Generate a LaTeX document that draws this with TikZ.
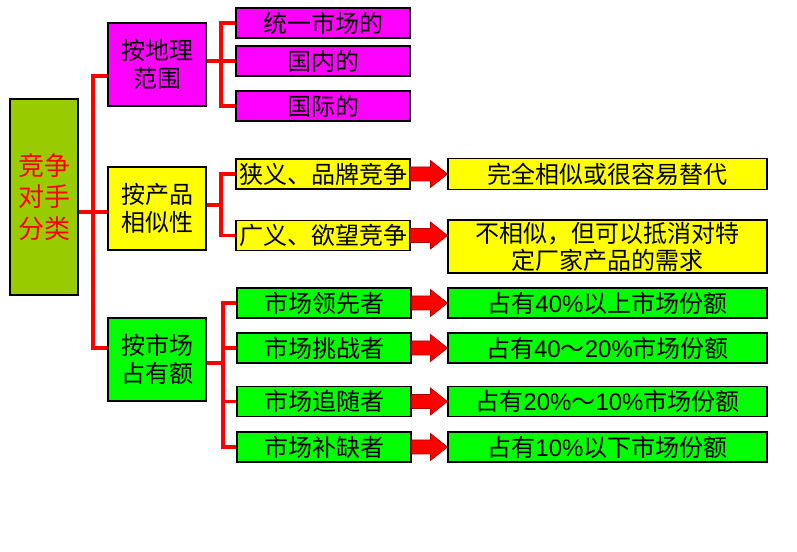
\documentclass[tikz,border=0pt]{standalone}
\usepackage{fontspec}
\setmainfont{Liberation Sans}
\newfontfamily\cjk{Noto Sans CJK SC}
\newcommand\latn[1]{{\rmfamily #1}}
\definecolor{rootgreen}{RGB}{153,204,0}
\definecolor{boxmag}{RGB}{255,0,255}
\definecolor{boxyel}{RGB}{255,255,0}
\definecolor{boxgrn}{RGB}{0,255,0}
\definecolor{linkred}{RGB}{255,0,0}
\definecolor{arrowedge}{RGB}{176,0,0}

% red block arrow from the east side of #1 towards the west side of #2, kept level with #1
\newcommand\fatarrow[2]{%
  \filldraw[fat] ([shift={(0,-7)}]#1.east) -- ([shift={(-17,-7)}]#2.west |- #1.east)
    -- ([shift={(-17,-13.5)}]#2.west |- #1.east) -- (#2.west |- #1.east)
    -- ([shift={(-17,13.5)}]#2.west |- #1.east) -- ([shift={(-17,7)}]#2.west |- #1.east)
    -- ([shift={(0,7)}]#1.east) -- cycle;}

\begin{document}
\begin{tikzpicture}[x=0.75pt,y=-0.75pt,
  box/.style={draw=black, line width=0.8pt, inner sep=0pt, align=center,
    font=\cjk\fontsize{18pt}{21pt}\selectfont},
  rootbox/.style={box, fill=rootgreen, text=linkred, minimum width=51pt, minimum height=147pt,
    font=\cjk\fontsize{19.5pt}{23.6pt}\selectfont},
  catbox/.style={box, minimum width=73.5pt, minimum height=62.25pt},
  leaf/.style={box, minimum width=130.5pt, minimum height=22.5pt},
  result/.style={box, minimum width=239.25pt, minimum height=23pt},
  link/.style={draw=linkred, line width=2.4pt},
  fat/.style={fill=linkred, draw=arrowedge, line width=0.5pt, line join=miter}
]
\useasboundingbox (0,0) rectangle (797,552);

% root and the three ways of grouping
\node[rootbox] (root) at (44,197) {竞争\\对手\\分类};
\node[catbox, fill=boxmag] (geo)  at (157,64.5)  {按地理\\范围};
\node[catbox, fill=boxyel] (prod) at (157,208.5) {按产品\\相似性};
\node[catbox, fill=boxgrn] (mkt)  at (157,359.5) {按市场\\占有额};

% geographic scope
\node[leaf, fill=boxmag] (g1) at (323,23)  {统一市场的};
\node[leaf, fill=boxmag] (g2) at (323,61)  {国内的};
\node[leaf, fill=boxmag] (g3) at (323,106) {国际的};

% product similarity
\node[leaf, fill=boxyel] (p1) at (323,174)   {狭义、品牌竞争};
\node[leaf, fill=boxyel] (p2) at (323,235.5) {广义、欲望竞争};
\node[result, fill=boxyel] (r1) at (607.5,174) {完全相似或很容易替代};
\node[result, fill=boxyel, minimum height=39.75pt,
      font=\cjk\fontsize{18pt}{20.25pt}\selectfont] (r2) at (607.5,246.5)
      {不相似，但可以抵消对特\\定厂家产品的需求};

% market share
\node[leaf, fill=boxgrn] (m1) at (324,303)   {市场领先者};
\node[leaf, fill=boxgrn] (m2) at (324,348)   {市场挑战者};
\node[leaf, fill=boxgrn] (m3) at (324,401.5) {市场追随者};
\node[leaf, fill=boxgrn] (m4) at (324,447)   {市场补缺者};
\node[result, fill=boxgrn, minimum height=22.5pt] (s1) at (607.5,303)   {占有\latn{40\%}以上市场份额};
\node[result, fill=boxgrn, minimum height=22.5pt] (s2) at (607.5,348)   {占有\latn{40}～\latn{20\%}市场份额};
\node[result, fill=boxgrn, minimum height=22.5pt] (s3) at (607.5,401.5) {占有\latn{20\%}～\latn{10\%}市场份额};
\node[result, fill=boxgrn, minimum height=22.5pt] (s4) at (607.5,447)   {占有\latn{10\%}以下市场份额};

% main trunk
\coordinate (tTop) at (93,76);
\coordinate (tBot) at (93,348);
\draw[link] (root.east |- 0,212) -- (prod.west |- 0,212);
\draw[link] (geo.west |- tTop) -- (tTop) -- (tBot) -- (mkt.west |- tBot);

% geographic branches
\coordinate (gs) at (221,61);
\draw[link] (geo.east |- gs) -- (g2.west);
\draw[link] (g1.west) -- (gs |- g1) -- (gs |- g3) -- (g3.west);

% product branches
\coordinate (ps) at (221,205);
\draw[link] (prod.east |- ps) -- (ps);
\draw[link] (p1.west) -- (ps |- p1) -- (ps |- p2) -- (p2.west);

% market-share branches
\coordinate (ms) at (223,363);
\draw[link] (mkt.east |- ms) -- (ms);
\draw[link] (m1.west) -- (ms |- m1) -- (ms |- m4) -- (m4.west);
\draw[link] (ms |- m2) -- (m2.west);
\draw[link] (ms |- m3) -- (m3.west);

% block arrows to the descriptions
\fatarrow{p1}{r1}
\fatarrow{p2}{r2}
\fatarrow{m1}{s1}
\fatarrow{m2}{s2}
\fatarrow{m3}{s3}
\fatarrow{m4}{s4}
\end{tikzpicture}
\end{document}
